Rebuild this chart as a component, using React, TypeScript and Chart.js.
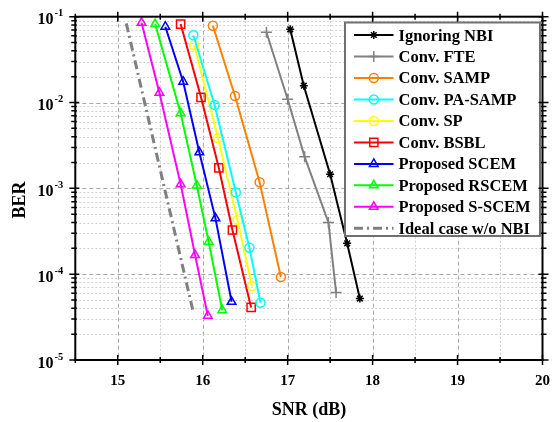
import React, { useEffect, useRef } from "react";
import { Chart, registerables } from "chart.js";
import { drawPoint } from "chart.js/helpers";

Chart.register(...registerables);

// ---- data ----
const seriesNames = [
  "Ignoring NBI",
  "Conv. FTE",
  "Conv. SAMP",
  "Conv. PA-SAMP",
  "Conv. SP",
  "Conv. BSBL",
  "Proposed SCEM",
  "Proposed RSCEM",
  "Proposed S-SCEM",
  "Ideal case w/o NBI",
];

const snrIgnoring = [17.03, 17.19, 17.5, 17.7, 17.85];
const berIgnoring = [0.0713, 0.0157, 1.46e-3, 2.29e-4, 5.2e-5];

const snrFTE = [16.75, 17.0, 17.2, 17.48, 17.57];
const berFTE = [0.0658, 0.0109, 2.33e-3, 4.0e-4, 6.1e-5];

const snrSAMP = [16.12, 16.38, 16.67, 16.92];
const berSAMP = [0.0785, 0.0119, 1.18e-3, 9.25e-5];

const snrPASAMP = [15.89, 16.14, 16.39, 16.55, 16.68];
const berPASAMP = [0.0607, 9.35e-3, 8.97e-4, 2.03e-4, 4.64e-5];

const snrSP = [15.9, 16.18, 16.41, 16.58];
const berSP = [0.0464, 3.86e-3, 4.26e-4, 7.26e-5];

const snrBSBL = [15.74, 15.98, 16.19, 16.35, 16.57];
const berBSBL = [0.082, 0.0115, 1.73e-3, 3.27e-4, 4.1e-5];

const snrSCEM = [15.56, 15.77, 15.96, 16.15, 16.34];
const berSCEM = [0.0764, 0.0175, 2.63e-3, 4.47e-4, 4.77e-5];

const snrRSCEM = [15.44, 15.74, 15.93, 16.07, 16.23];
const berRSCEM = [0.082, 7.5e-3, 1.08e-3, 2.39e-4, 3.8e-5];

const snrSSCEM = [15.28, 15.49, 15.74, 15.91, 16.06];
const berSSCEM = [0.085, 0.013, 1.12e-3, 1.67e-4, 3.27e-5];

const snrIdeal = [15.1, 15.89];
const berIdeal = [0.0838, 3.55e-5];

const xTickLabels = ["15", "16", "17", "18", "19", "20"];
const yDecadeExponents = [-1, -2, -3, -4, -5];

// ---- styles ----
const SERIF = '"Liberation Serif", "Times New Roman", serif';

const styles = [
  { color: "#000000", point: "star", r: 4 },
  { color: "#808080", point: "cross", r: 5.5 },
  { color: "#FF8000", point: "circle", r: 4.5 },
  { color: "#00FFFF", point: "circle", r: 4.5 },
  { color: "#FFFF00", point: "circle", r: 4.5 },
  { color: "#FF0000", point: "rect", r: 5.8 },
  { color: "#0000FF", point: "triangle", r: 5 },
  { color: "#00FF00", point: "triangle", r: 5 },
  { color: "#FF00FF", point: "triangle", r: 5 },
  { color: "#808080", point: false as any, r: 0 },
];

const seriesX = [snrIgnoring, snrFTE, snrSAMP, snrPASAMP, snrSP, snrBSBL, snrSCEM, snrRSCEM, snrSSCEM, snrIdeal];
const seriesY = [berIgnoring, berFTE, berSAMP, berPASAMP, berSP, berBSBL, berSCEM, berRSCEM, berSSCEM, berIdeal];

const IDEAL_DASH = [9, 4, 2, 4];

const framePlugin = {
  id: "framePlugin",
  beforeDraw(chart: any) {
    const ctx = chart.ctx;
    ctx.save();
    ctx.fillStyle = "#ffffff";
    ctx.fillRect(0, 0, chart.width, chart.height);
    ctx.restore();
  },
  beforeDatasetsDraw(chart: any) {
    const ctx = chart.ctx;
    const { left, right, top, bottom } = chart.chartArea;
    const sx = chart.scales.x;
    const sy = chart.scales.y;
    ctx.save();
    ctx.lineWidth = 1;
    for (let v = 15; v < 20; v += 0.5) {
      const px = Math.round(sx.getPixelForValue(v)) + 0.5;
      const major = Math.abs(v - Math.round(v)) < 1e-6;
      ctx.strokeStyle = major ? "#a8a8a8" : "#cfcfcf";
      ctx.setLineDash(major ? [4, 3] : [2, 2]);
      ctx.beginPath();
      ctx.moveTo(px, top);
      ctx.lineTo(px, bottom);
      ctx.stroke();
    }
    for (let e = -5; e < -1; e++) {
      for (let m = 1; m <= 9; m++) {
        const val = m * Math.pow(10, e);
        if (m === 1 && e === -5) continue;
        const py = Math.round(sy.getPixelForValue(val)) + 0.5;
        const major = m === 1;
        ctx.strokeStyle = major ? "#a8a8a8" : "#cfcfcf";
        ctx.setLineDash(major ? [4, 3] : [2, 2]);
        ctx.beginPath();
        ctx.moveTo(left, py);
        ctx.lineTo(right, py);
        ctx.stroke();
      }
    }
    ctx.restore();
  },
  afterDatasetsDraw(chart: any) {
    const ctx = chart.ctx;
    const bx = 345, by = 22.5, bw = 195, bh = 213.5;
    ctx.save();
    ctx.fillStyle = "#ffffff";
    ctx.fillRect(bx, by, bw, bh);
    ctx.strokeStyle = "#707070";
    ctx.lineWidth = 2;
    ctx.setLineDash([]);
    ctx.strokeRect(bx, by, bw, bh);
    const ds = chart.data.datasets;
    for (let i = 0; i < ds.length; i++) {
      const d = ds[i];
      const cy = 35 + i * 21.48;
      ctx.save();
      ctx.strokeStyle = d.borderColor;
      ctx.lineWidth = d.borderWidth;
      ctx.setLineDash(d.borderDash || []);
      ctx.beginPath();
      ctx.moveTo(354, cy);
      ctx.lineTo(393.5, cy);
      ctx.stroke();
      ctx.restore();
      if (d.pointStyle) {
        ctx.save();
        ctx.strokeStyle = d.pointBorderColor;
        ctx.fillStyle = "rgba(0,0,0,0)";
        ctx.lineWidth = d.pointBorderWidth;
        ctx.setLineDash([]);
        drawPoint(ctx, {
          pointStyle: d.pointStyle,
          radius: d.pointRadius,
          borderWidth: d.pointBorderWidth,
          rotation: 0,
        } as any, 373.8, cy);
        ctx.restore();
      }
      ctx.save();
      ctx.fillStyle = "#000";
      ctx.font = `bold 16.5px ${SERIF}`;
      ctx.textAlign = "left";
      ctx.textBaseline = "alphabetic";
      ctx.fillText(d.label, 398.5, cy + 5.5);
      ctx.restore();
    }
    ctx.restore();
  },
  afterDraw(chart: any) {
    const ctx = chart.ctx;
    const { left, right, top, bottom } = chart.chartArea;
    const sx = chart.scales.x;
    const sy = chart.scales.y;
    ctx.save();
    ctx.setLineDash([]);
    ctx.strokeStyle = "#000";
    ctx.lineWidth = 2;
    ctx.strokeRect(left, top, right - left, bottom - top);
    ctx.lineWidth = 1.5;
    for (let v = 14.5; v <= 20.001; v += 0.5) {
      const px = sx.getPixelForValue(v);
      const major = Math.abs(v - Math.round(v)) < 1e-6;
      const out = major ? 5 : 3;
      const inn = major ? 5 : 3;
      ctx.beginPath();
      ctx.moveTo(px, bottom + out);
      ctx.lineTo(px, bottom - inn);
      ctx.moveTo(px, top - out);
      ctx.lineTo(px, top + inn);
      ctx.stroke();
    }
    for (let e = -5; e <= -1; e++) {
      for (let m = 1; m <= 9; m++) {
        if (e === -1 && m > 1) continue;
        const py = sy.getPixelForValue(m * Math.pow(10, e));
        const major = m === 1;
        const out = major ? 6 : 4;
        const inn = major ? 4 : 1.5;
        ctx.beginPath();
        ctx.moveTo(left - out, py);
        ctx.lineTo(left + inn, py);
        ctx.moveTo(right + out, py);
        ctx.lineTo(right - inn, py);
        ctx.stroke();
      }
    }
    ctx.fillStyle = "#000";
    ctx.font = `bold 15px ${SERIF}`;
    ctx.textAlign = "center";
    ctx.textBaseline = "alphabetic";
    for (const lab of xTickLabels) {
      const px = sx.getPixelForValue(Number(lab));
      ctx.fillText(lab, px, 385);
    }
    for (const e of yDecadeExponents) {
      const py = sy.getPixelForValue(Math.pow(10, e));
      ctx.font = `bold 16px ${SERIF}`;
      ctx.textAlign = "right";
      ctx.fillText("10", 53.5, py + 7.5);
      ctx.font = `bold 10.5px ${SERIF}`;
      ctx.textAlign = "left";
      ctx.fillText(String(e), 54.5, py - 0.5);
    }
    ctx.font = `bold 18px ${SERIF}`;
    ctx.textAlign = "center";
    ctx.fillText("SNR (dB)", (left + right) / 2, 415);
    ctx.save();
    ctx.translate(25, 200);
    ctx.rotate(-Math.PI / 2);
    ctx.fillText("BER", 0, 0);
    ctx.restore();
    ctx.restore();
  },
};

export default function App() {
  const ref = useRef<HTMLCanvasElement | null>(null);
  useEffect(() => {
    document.body.style.margin = "0";
    if (!ref.current) return;
    const datasets = seriesNames.map((name, i) => {
      const st = styles[i];
      const isIdeal = i === 9;
      return {
        label: name,
        data: seriesX[i].map((x, k) => ({ x, y: seriesY[i][k] })),
        borderColor: st.color,
        backgroundColor: "rgba(0,0,0,0)",
        borderWidth: isIdeal ? 3 : 2,
        borderDash: isIdeal ? IDEAL_DASH : [],
        pointStyle: st.point,
        pointRadius: st.r,
        pointBorderColor: st.color,
        pointBackgroundColor: "rgba(0,0,0,0)",
        pointBorderWidth: 1.5,
        showLine: true,
        tension: 0,
      };
    });
    const chart = new Chart(ref.current, {
      type: "scatter",
      data: { datasets: datasets as any },
      options: {
        animation: false,
        responsive: false,
        events: [],
        layout: { padding: { left: 75.3, right: 11.5, top: 16.7, bottom: 62 } },
        plugins: { legend: { display: false }, tooltip: { enabled: false } },
        scales: {
          x: { type: "linear", min: 14.5, max: 20, display: false },
          y: { type: "logarithmic", min: 1e-5, max: 1e-1, display: false },
        },
      },
      plugins: [framePlugin],
    });
    return () => chart.destroy();
  }, []);
  return (
    <div style={{ position: "fixed", left: 0, top: 0, width: 554, height: 422 }}>
      <canvas ref={ref} width={554} height={422} style={{ width: 554, height: 422 }} />
    </div>
  );
}
